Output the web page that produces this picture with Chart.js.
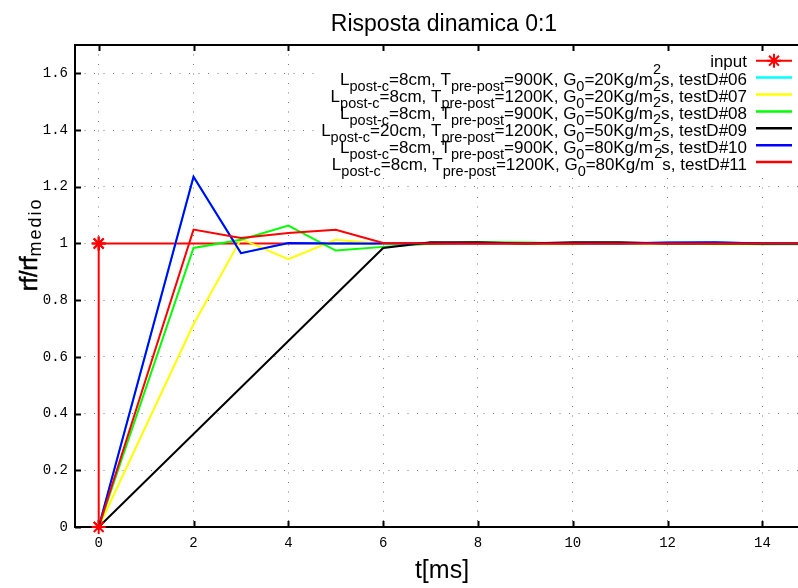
<!DOCTYPE html>
<html>
<head>
<meta charset="utf-8">
<script src="https://cdn.jsdelivr.net/npm/chart.js@4.4.1/dist/chart.umd.min.js"></script>
<style>
  html, body { margin: 0; padding: 0; background: #fff; }
  #wrap { width: 798px; height: 588px; position: relative; }
</style>
</head>
<body>
<div id="wrap"><canvas id="c" width="798" height="588"></canvas></div>
<script>
// Step input (0 -> 1 at t = 0)
const inputTime  = [0, 0, 15];
const inputValue = [0, 1, 1];

// Sampling times [ms]
const stepTime = [0, 2, 3, 4, 5, 6, 7, 8, 9, 10, 11, 12, 13, 14, 15];
const rampTime = [0, 6, 7, 8, 9, 10, 11, 12, 13, 14, 15];

// Normalised response rf/rf_medio for each test
const test06 = [0, 1.235, 0.966, 1.002, 1.0, 1.0, 1.0, 1.0, 1.0, 1.0, 1.0, 1.003, 1.004, 1.0, 1.0];
const test07 = [0, 0.715, 1.016, 0.945, 1.013, 0.998, 0.997, 0.999, 0.997, 0.997, 1.0, 1.0, 0.997, 0.997, 1.0];
const test08 = [0, 0.984, 1.013, 1.063, 0.975, 0.988, 0.999, 1.004, 1.003, 1.0, 1.0, 1.0, 1.0, 0.997, 0.997];
const test09 = [0, 0.984, 1.004, 1.004, 1.0, 1.004, 1.004, 1.0, 1.0, 1.0, 1.0];
const test10 = [0, 1.235, 0.966, 1.002, 1.0, 1.0, 1.0, 1.0, 1.0, 1.0, 1.0, 1.003, 1.004, 1.0, 1.0];
const test11 = [0, 1.049, 1.019, 1.037, 1.048, 1.002, 1.0, 1.0, 1.0, 1.0, 1.0, 1.0, 1.0, 1.0, 1.0];

// Test conditions
const testIds   = ['06', '07', '08', '09', '10', '11'];
const lengthsCm = [8, 8, 8, 20, 8, 8];
const tempsK    = [900, 1200, 900, 1200, 900, 1200];
const massFlux  = [20, 20, 50, 50, 80, 80];
const colors    = ['#00ffff', '#ffff00', '#00ff00', '#000000', '#0000ff', '#ff0000'];

// Axis ticks
const xTicks = [0, 2, 4, 6, 8, 10, 12, 14];
const yTicks = [0, 0.2, 0.4, 0.6, 0.8, 1, 1.2, 1.4, 1.6];

const seriesValues = [test06, test07, test08, test09, test10, test11];
const seriesTimes  = [stepTime, stepTime, stepTime, rampTime, stepTime, stepTime];

const toPoints = (ts, vs) => vs.map((v, i) => ({ x: ts[i], y: v }));

const datasets = [{
  label: 'input',
  data: toPoints(inputTime, inputValue),
  borderColor: '#ff0000',
  backgroundColor: '#ff0000',
  borderWidth: 2,
  pointStyle: 'star',
  pointRadius: 7,
  pointBorderColor: '#ff0000',
  pointBorderWidth: 2,
  order: 10
}];
seriesValues.forEach((vals, i) => {
  datasets.push({
    label: `Lpost-c=${lengthsCm[i]}cm, Tpre-post=${tempsK[i]}K, G0=${massFlux[i]}Kg/m2s, testD#${testIds[i]}`,
    data: toPoints(seriesTimes[i], vals),
    borderColor: colors[i],
    backgroundColor: colors[i],
    borderWidth: 2,
    pointRadius: 0,
    order: 9 - i
  });
});

const SANS = '"Liberation Sans", Arial, Helvetica, sans-serif';
const MONO = '"Liberation Mono", "DejaVu Sans Mono", monospace';

// Rich-text legend entries with sub/superscripts
function legendSegments(i) {
  return [
    ['L', 'n'], ['post-c', 'sub'], [`=${lengthsCm[i]}cm, T`, 'n'], ['pre-post', 'sub'],
    [`=${tempsK[i]}K, G`, 'n'], ['0', 'sub'], [`=${massFlux[i]}Kg/m`, 'n'], ['2', 'sup'],
    [`s, testD#${testIds[i]}`, 'n']
  ];
}
const fontFor = m => m === 'n' ? `17px ${SANS}` : `14.5px ${SANS}`;
const shiftFor = m => m === 'sub' ? 6 : (m === 'sup' ? -11.5 : 0);

function drawRich(ctx, segs, right, baseline) {
  let total = 0;
  segs.forEach(([t, m]) => { ctx.font = fontFor(m); total += ctx.measureText(t).width; });
  let x = right - total;
  segs.forEach(([t, m]) => {
    ctx.font = fontFor(m);
    ctx.fillText(t, x, baseline + shiftFor(m));
    x += ctx.measureText(t).width;
  });
}

const decorations = {
  id: 'decorations',
  afterDraw(chart) {
    const { ctx, chartArea: a, scales: { x, y } } = chart;
    ctx.save();
    ctx.fillStyle = '#000';
    ctx.textAlign = 'left';
    ctx.textBaseline = 'alphabetic';

    // Key box
    ctx.fillStyle = '#fff';
    ctx.fillRect(316, a.top + 1, a.right - 316, 171 - a.top);
    ctx.fillStyle = '#000';

    const textRight = 747, lineL = 756, lineR = 792;
    const rowY = r => 60.7 + r * 16.9;
    // input entry
    ctx.font = `17px ${SANS}`;
    ctx.textAlign = 'right';
    ctx.fillText('input', textRight, rowY(0) + 6.5);
    ctx.textAlign = 'left';
    ctx.strokeStyle = '#ff0000';
    ctx.lineWidth = 2;
    ctx.beginPath(); ctx.moveTo(lineL, rowY(0)); ctx.lineTo(lineR, rowY(0)); ctx.stroke();
    const cx = (lineL + lineR) / 2, cy = rowY(0), r = 7;
    ctx.beginPath();
    ctx.moveTo(cx - r, cy); ctx.lineTo(cx + r, cy);
    ctx.moveTo(cx, cy - r); ctx.lineTo(cx, cy + r);
    const d = r * Math.SQRT1_2;
    ctx.moveTo(cx - d, cy - d); ctx.lineTo(cx + d, cy + d);
    ctx.moveTo(cx - d, cy + d); ctx.lineTo(cx + d, cy - d);
    ctx.stroke();

    for (let i = 0; i < testIds.length; i++) {
      const ly = rowY(i + 1);
      ctx.fillStyle = '#000';
      drawRich(ctx, legendSegments(i), textRight, ly + 7.5);
      ctx.strokeStyle = colors[i];
      ctx.lineWidth = 2.5;
      ctx.beginPath(); ctx.moveTo(lineL, ly); ctx.lineTo(lineR, ly); ctx.stroke();
    }

    // Frame (left, bottom, top)
    ctx.strokeStyle = '#000';
    ctx.lineWidth = 2;
    ctx.beginPath();
    ctx.moveTo(a.right + 2, a.top); ctx.lineTo(a.left, a.top);
    ctx.lineTo(a.left, a.bottom); ctx.lineTo(a.right + 2, a.bottom);
    ctx.stroke();

    // Inward tick marks
    const tl = 6;
    ctx.beginPath();
    xTicks.forEach(v => {
      const px = Math.round(x.getPixelForValue(v)) + 0.5;
      ctx.moveTo(px, a.bottom); ctx.lineTo(px, a.bottom - tl);
      ctx.moveTo(px, a.top); ctx.lineTo(px, a.top + tl);
    });
    yTicks.forEach(v => {
      const py = Math.round(y.getPixelForValue(v)) + 0.5;
      ctx.moveTo(a.left, py); ctx.lineTo(a.left + tl, py);
    });
    ctx.stroke();

    // Input markers on top of the response curves
    const inp = chart.getDatasetMeta(0).data;
    ctx.strokeStyle = '#ff0000';
    ctx.lineWidth = 2;
    inp.slice(0, 2).forEach(p => {
      ctx.beginPath();
      ctx.moveTo(p.x - r, p.y); ctx.lineTo(p.x + r, p.y);
      ctx.moveTo(p.x, p.y - r); ctx.lineTo(p.x, p.y + r);
      ctx.moveTo(p.x - d, p.y - d); ctx.lineTo(p.x + d, p.y + d);
      ctx.moveTo(p.x - d, p.y + d); ctx.lineTo(p.x + d, p.y - d);
      ctx.stroke();
    });

    // Title
    ctx.fillStyle = '#000';
    ctx.textAlign = 'center';
    ctx.font = `23px ${SANS}`;
    ctx.fillText('Risposta dinamica 0:1', 444, 31);

    // x axis title
    ctx.font = `25px ${SANS}`;
    ctx.fillText('t[ms]', 442, 578);

    // y axis title rf/rf_medio
    ctx.translate(37, 291);
    ctx.rotate(-Math.PI / 2);
    ctx.textAlign = 'left';
    ctx.font = `23px ${SANS}`;
    ctx.fillText('rf/rf', 0, 0);
    ctx.lineWidth = 0.6;
    ctx.strokeStyle = '#000';
    ctx.strokeText('rf/rf', 0, 0);
    const w = ctx.measureText('rf/rf').width;
    ctx.font = `18px ${SANS}`;
    ctx.letterSpacing = '2px';
    ctx.fillText('medio', w, 4);
    ctx.restore();
  }
};

new Chart(document.getElementById('c'), {
  type: 'line',
  data: { datasets },
  plugins: [decorations],
  options: {
    responsive: false,
    animation: false,
    devicePixelRatio: 1,
    layout: { padding: { top: 45, left: 0, right: 0, bottom: 0 }, autoPadding: false },
    plugins: { legend: { display: false }, tooltip: { enabled: false }, title: { display: false } },
    elements: { line: { tension: 0 } },
    scales: {
      x: {
        type: 'linear',
        min: -0.5,
        max: 14.75,
        afterBuildTicks: s => { s.ticks = xTicks.map(v => ({ value: v })); },
        afterFit: s => { s.height = 61; s.paddingLeft = 0; s.paddingRight = 0; },
        grid: { color: '#7a7a7a', lineWidth: 1, drawTicks: false, borderDash: [1, 8.5] },
        border: { display: false, dash: [1, 8.5] },
        ticks: {
          font: { family: MONO, size: 14 }, color: '#000', padding: 8,
          maxRotation: 0, autoSkip: false, callback: v => String(v)
        }
      },
      y: {
        type: 'linear',
        min: 0,
        max: 1.7,
        afterBuildTicks: s => { s.ticks = yTicks.map(v => ({ value: v })); },
        afterFit: s => { s.width = 75; s.paddingTop = 0; s.paddingBottom = 0; },
        grid: { color: '#7a7a7a', lineWidth: 1, drawTicks: false, borderDash: [1, 8.5] },
        border: { display: false, dash: [1, 8.5] },
        ticks: {
          font: { family: MONO, size: 14 }, color: '#000', padding: 7,
          callback: v => String(Math.round(v * 10) / 10)
        }
      }
    }
  }
});
</script>
</body>
</html>
